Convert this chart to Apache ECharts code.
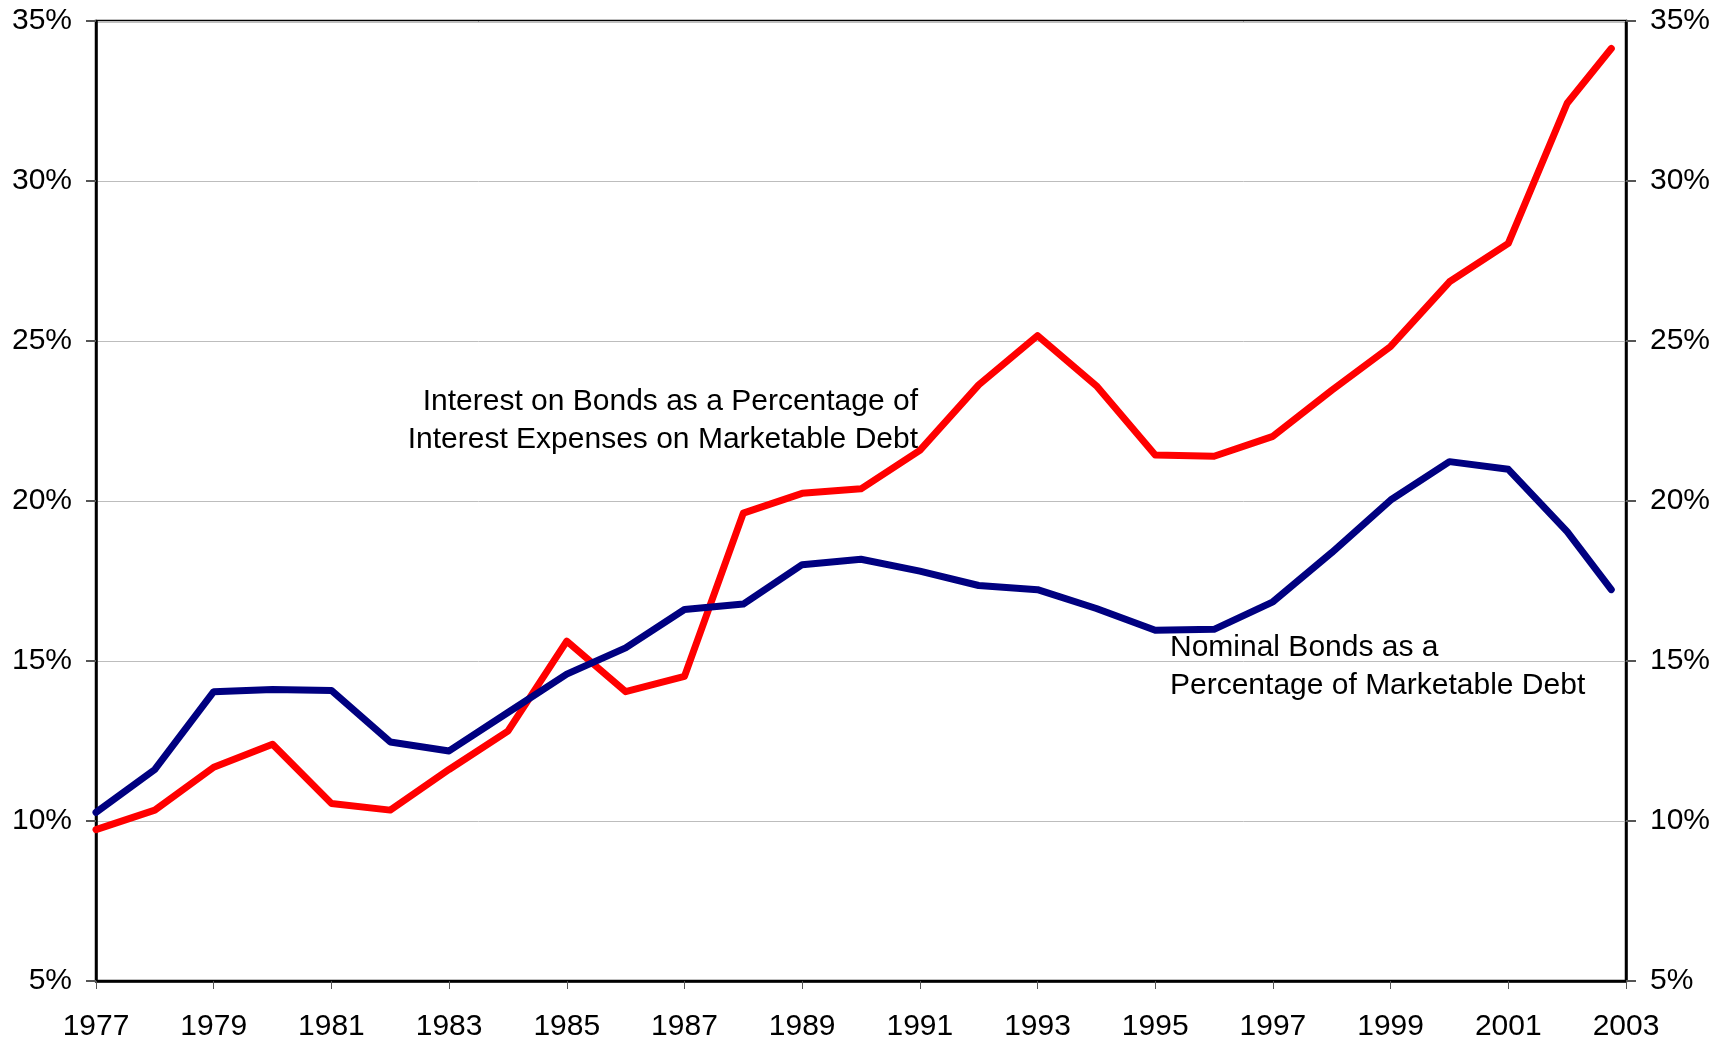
<!DOCTYPE html>
<html>
<head>
<meta charset="utf-8">
<script src="https://cdn.jsdelivr.net/npm/echarts@6/dist/echarts.min.js"></script>
<style>
  html, body { margin: 0; padding: 0; background: #fff; }
  #chart { width: 1720px; height: 1045px; }
</style>
</head>
<body>
<div id="chart"></div>
<script>
// years (last point sits part-way into 2002)
const years = [1977, 1978, 1979, 1980, 1981, 1982, 1983, 1984, 1985, 1986, 1987, 1988, 1989,
  1990, 1991, 1992, 1993, 1994, 1995, 1996, 1997, 1998, 1999, 2000, 2001, 2002, 2002.75];

// interest on bonds as % of interest expenses on marketable debt
const interestShare = [9.73, 10.34, 11.68, 12.4, 10.55, 10.34, 11.61, 12.81, 15.62, 14.04, 14.52, 19.62, 20.24,
  20.38, 21.58, 23.63, 25.17, 23.6, 21.44, 21.4, 22.02, 23.46, 24.83, 26.85, 28.05, 32.43, 34.14];

// nominal bonds as % of marketable debt
const bondShare = [10.27, 11.61, 14.04, 14.11, 14.08, 12.47, 12.19, 13.39, 14.59, 15.41, 16.61, 16.78, 18.01,
  18.18, 17.81, 17.36, 17.23, 16.64, 15.96, 15.99, 16.85, 18.39, 20.03, 21.23, 20.99, 19.04, 17.23];

const pair = arr => years.map((y, i) => [y, arr[i]]);

const FONT = 'Liberation Sans, Arial, sans-serif';

const chart = echarts.init(document.getElementById('chart'));

const yAxisBase = {
  type: 'value',
  min: 5,
  max: 35,
  interval: 5,
  axisLine: { show: true, lineStyle: { color: '#000', width: 2.5 } },
  axisTick: { show: true, length: 10, lineStyle: { color: '#555', width: 2 } },
  axisLabel: {
    formatter: '{value}%',
    color: '#000',
    fontSize: 30,
    fontFamily: FONT,
    margin: 24
  }
};

// annotation text lines
const labelStyle = { fill: '#000', fontSize: 30, fontFamily: FONT, verticalAlign: 'top' };
const textLine = (x, y, text, align) => ({
  type: 'text',
  x: x,
  y: y,
  z: 10,
  style: Object.assign({ text: text, align: align }, labelStyle)
});

chart.setOption({
  animation: false,
  grid: {
    left: 96,
    right: 94,
    top: 21,
    bottom: 64,
    show: true,
    borderColor: '#000',
    borderWidth: 2.5
  },
  xAxis: {
    type: 'value',
    min: 1977,
    max: 2003,
    interval: 2,
    axisLine: { show: true, lineStyle: { color: '#000', width: 2.5 } },
    axisTick: { show: true, length: 8, lineStyle: { color: '#555', width: 1 } },
    splitLine: { show: false },
    axisLabel: {
      formatter: v => String(v),
      color: '#000',
      fontSize: 30,
      fontFamily: FONT,
      margin: 31
    }
  },
  yAxis: [
    Object.assign({}, yAxisBase, {
      position: 'left',
      splitLine: { show: true, lineStyle: { color: '#bdbdbd', width: 1 } }
    }),
    Object.assign({}, yAxisBase, {
      position: 'right',
      splitLine: { show: false }
    })
  ],
  series: [
    {
      name: 'Interest on Bonds',
      type: 'line',
      data: pair(interestShare),
      symbol: 'none',
      lineStyle: { color: '#ff0000', width: 7, cap: 'round', join: 'round' },
      z: 3
    },
    {
      name: 'Nominal Bonds',
      type: 'line',
      data: pair(bondShare),
      symbol: 'none',
      lineStyle: { color: '#000080', width: 7, cap: 'round', join: 'round' },
      z: 4
    }
  ],
  graphic: [
    textLine(918, 387, 'Interest on Bonds as a Percentage of', 'right'),
    textLine(918, 425, 'Interest Expenses on Marketable Debt', 'right'),
    textLine(1170, 633, 'Nominal Bonds as a', 'left'),
    textLine(1170, 671, 'Percentage of Marketable Debt', 'left')
  ]
});
</script>
</body>
</html>
